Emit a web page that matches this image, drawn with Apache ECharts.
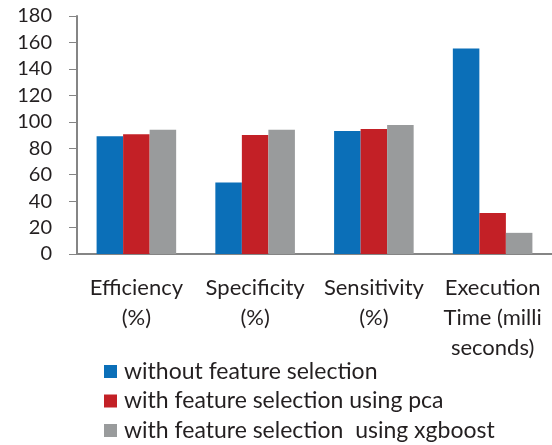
<!DOCTYPE html>
<html>
<head>
<meta charset="utf-8">
<script src="https://cdn.jsdelivr.net/npm/echarts@6/dist/echarts.min.js"></script>
<style>html,body{margin:0;padding:0;background:#fff}#c{width:552px;height:445px}</style>
</head>
<body>
<div id="c"></div>
<script>
var categories = ['Efficiency\n(%)', 'Specificity\n(%)', 'Sensitivity\n(%)', 'Execution\nTime (milli\nseconds)'];
var seriesNames = ['without feature selection', 'with feature selection using pca', 'with feature selection  using xgboost'];
var withoutFS = [89, 54, 93, 155.5];
var withPCA = [90.5, 90, 94.5, 31];
var withXGB = [94, 94, 97.5, 16];
var colors = ['#0B6FB8', '#C32026', '#999B9C'];

var chart = echarts.init(document.getElementById('c'), null, {renderer: 'canvas'});
var font = 'Lato, "Open Sans", sans-serif';
function bar(name, data, color) {
  return {
    name: name, type: 'bar', data: data,
    barGap: 0, barCategoryGap: '33%',
    itemStyle: {color: color}
  };
}
chart.setOption({
  animation: false,
  textStyle: {fontFamily: font},
  grid: {left: 77, right: -2, top: 16, bottom: 191, containLabel: false},
  legend: {
    orient: 'vertical', left: 104, top: 360, padding: 0, height: 100, width: 448,
    itemWidth: 13, itemHeight: 13, itemGap: 6.5,
    icon: 'rect',
    textStyle: {fontFamily: font, fontSize: 23, color: '#231F20', lineHeight: 23, padding: [0, 0, 0, 2]},
    data: seriesNames
  },
  xAxis: {
    type: 'category', data: categories,
    axisLine: {lineStyle: {color: '#858585', width: 2}},
    axisTick: {length: 8, lineStyle: {color: '#858585', width: 1}},
    axisLabel: {fontFamily: font, fontSize: 22, color: '#231F20', lineHeight: 30, margin: 19, interval: 0}
  },
  yAxis: {
    type: 'value', min: 0, max: 180, interval: 20,
    splitLine: {show: false},
    axisLine: {show: true, lineStyle: {color: '#858585', width: 2}},
    axisTick: {show: true, length: 8, lineStyle: {color: '#858585', width: 1}},
    axisLabel: {fontFamily: font, fontSize: 20, color: '#231F20', margin: 25}
  },
  series: [
    bar(seriesNames[0], withoutFS, colors[0]),
    bar(seriesNames[1], withPCA, colors[1]),
    bar(seriesNames[2], withXGB, colors[2])
  ]
});
</script>
</body>
</html>
